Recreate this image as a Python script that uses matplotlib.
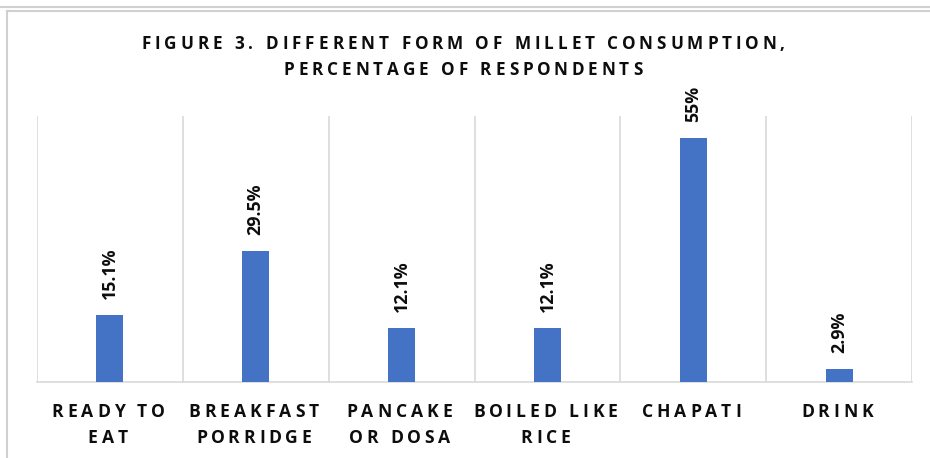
import matplotlib
matplotlib.use("Agg")
import matplotlib.pyplot as plt
from matplotlib.font_manager import FontProperties
from matplotlib.lines import Line2D
from matplotlib.transforms import IdentityTransform

categories = ["READY TO\nEAT", "BREAKFAST\nPORRIDGE", "PANCAKE\nOR DOSA", "BOILED LIKE\nRICE", "CHAPATI", "DRINK"]
values = [15.1, 29.5, 12.1, 12.1, 55.0, 2.9]
value_labels = ["15.1%", "29.5%", "12.1%", "12.1%", "55%", "2.9%"]
title_lines = ["FIGURE 3. DIFFERENT FORM OF MILLET CONSUMPTION,", "PERCENTAGE OF RESPONDENTS"]

BAR_BLUE = "#4472c4"
GRID_GRAY = "#d9d9d9"
BORDER_GRAY = "#d0d0d0"
INK = "#0d0d0d"

W, H = 930, 458
FONT = "Open Sans"


def char_width(renderer, ch, prop):
    # advance width of one character, measured between two X's so spaces count
    w_pair, _, _ = renderer.get_text_width_height_descent("XX", prop, ismath=False)
    w_trip, _, _ = renderer.get_text_width_height_descent("X" + ch + "X", prop, ismath=False)
    return w_trip - w_pair


def spaced_text(fig, renderer, cx, baseline_y, text, prop, tracking):
    """Draw text centred on cx (pixels) with extra letter spacing (pixels).
    Like Office, the spacing is also added after the last letter."""
    widths = [char_width(renderer, ch, prop) for ch in text]
    total = sum(widths) + tracking * len(text)
    x = cx - total / 2
    for ch, w in zip(text, widths):
        if ch != " ":
            fig.text(x, baseline_y, ch, fontproperties=prop, color=INK,
                     ha="left", va="baseline", transform=IdentityTransform())
        x += w + tracking


fig = plt.figure(figsize=(W / 100, H / 100), dpi=100, facecolor="white")
ax = fig.add_axes([37 / W, 1 - 382 / H, (912 - 37) / W, (382 - 116) / H])

x = list(range(len(categories)))
ax.bar(x, values, width=0.185, color=BAR_BLUE, zorder=3)
ax.set_xlim(-0.5, len(categories) - 0.5)
ax.set_ylim(0, 60)

ax.set_xticks([i - 0.5 for i in range(len(categories) + 1)])
ax.set_xticklabels([])
ax.tick_params(axis="x", length=0)
ax.set_yticks([])
ax.grid(axis="x", color=GRID_GRAY, linewidth=1.2, zorder=0)
for spine in ("top", "right", "left"):
    ax.spines[spine].set_visible(False)
ax.spines["bottom"].set_color(GRID_GRAY)
ax.spines["bottom"].set_linewidth(1.2)

for xi, v, lab in zip(x, values, value_labels):
    ax.annotate(lab, (xi, v), xytext=(0, 11.5), textcoords="offset points",
                rotation=90, ha="center", va="bottom", fontsize=12.8,
                fontweight="bold", family=FONT, color=INK)

fig.canvas.draw()
renderer = fig.canvas.get_renderer()

title_prop = FontProperties(family=FONT, weight="bold", size=12.3)
spaced_text(fig, renderer, 465, H - 49, title_lines[0], title_prop, 4.0)
spaced_text(fig, renderer, 465, H - 75, title_lines[1], title_prop, 4.0)

tick_prop = FontProperties(family=FONT, weight="bold", size=12.6)
for xi, cat in zip(x, categories):
    cx = ax.transData.transform((xi, 0))[0]
    for k, line in enumerate(cat.split("\n")):
        spaced_text(fig, renderer, cx, H - 417 - 26 * k, line, tick_prop, 4.0)

# frame of the surrounding document box
fig.add_artist(Line2D([0, W], [H - 7, H - 7], color=BORDER_GRAY, linewidth=1.5, transform=IdentityTransform()))
fig.add_artist(Line2D([7, W], [H - 10.5, H - 10.5], color=BORDER_GRAY, linewidth=1.5, transform=IdentityTransform()))
fig.add_artist(Line2D([7, 7], [0, H - 10.5], color=BORDER_GRAY, linewidth=1.5, transform=IdentityTransform()))

fig.savefig("out.png", dpi=100, facecolor="white")
